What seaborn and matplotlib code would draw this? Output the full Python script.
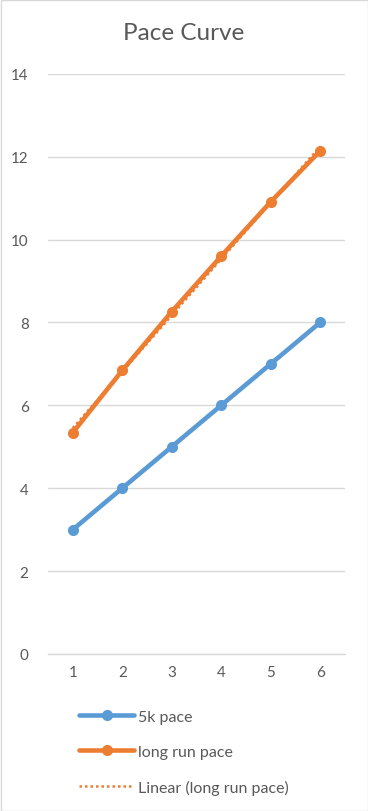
import numpy as np
import pandas as pd
import matplotlib
matplotlib.use("Agg")
import matplotlib.pyplot as plt
import seaborn as sns
from matplotlib.patches import Rectangle

# Data
run_number = [1, 2, 3, 4, 5, 6]
pace_5k = [3, 4, 5, 6, 7, 8]
pace_long_run = [5.34, 6.84, 8.26, 9.60, 10.91, 12.14]
y_ticks = [0, 2, 4, 6, 8, 10, 12, 14]
title = "Pace Curve"
label_5k = "5k pace"
label_long = "long run pace"
label_trend = "Linear (long run pace)"

sns.set_theme(style="white")
plt.rcParams['font.family'] = ['Lato', 'DejaVu Sans']

BLUE = "#5B9BD5"
ORANGE = "#ED7D31"
TXT = "#595959"
GRID = "#D9D9D9"

fig = plt.figure(figsize=(3.68, 8.12), dpi=100)
ax = fig.add_axes([48/368, 1 - 655/812, (345 - 48)/368, (655 - 74.7)/812])

df = pd.DataFrame({"x": run_number, "5k": pace_5k, "long": pace_long_run})

sns.lineplot(data=df, x="x", y="5k", ax=ax, color=BLUE, lw=3.3, marker="o",
             markersize=8, markeredgewidth=0, label=label_5k, zorder=3)
sns.lineplot(data=df, x="x", y="long", ax=ax, color=ORANGE, lw=3.3, marker="o",
             markersize=8, markeredgewidth=0, label=label_long, zorder=3)
sns.regplot(data=df, x="x", y="long", ax=ax, scatter=False, ci=None, truncate=True,
            color=ORANGE, label=label_trend,
            line_kws=dict(lw=1.8, linestyle=(0, (1, 1.2)), zorder=4))

ax.set_xlim(0.5, 6.5)
ax.set_ylim(0, 14)
ax.set_yticks(y_ticks)
ax.set_xticks(run_number)
ax.set_xlabel("")
ax.set_ylabel("")
ax.grid(axis="y", color=GRID, lw=1.0)
ax.set_axisbelow(True)
for s in ["top", "right", "left"]:
    ax.spines[s].set_visible(False)
ax.spines["bottom"].set_color(GRID)
ax.spines["bottom"].set_linewidth(1.0)
ax.tick_params(axis="both", length=0, labelsize=10.9, labelcolor=TXT)
ax.tick_params(axis="y", pad=14)
ax.tick_params(axis="x", pad=8)

fig.text(184/368, 1 - 34/812, title, ha="center", va="center",
         fontsize=17.5, color=TXT)

handles, labels = ax.get_legend_handles_labels()
if ax.legend_:
    ax.legend_.remove()
leg = fig.legend(handles, labels, loc="upper left",
                 bbox_to_anchor=(73/368, 1 - 704/812),
                 frameon=False, fontsize=11.5, handlelength=3.4,
                 handletextpad=0.3, labelspacing=1.32, borderaxespad=0)
for t in leg.get_texts():
    t.set_color(TXT)

fig.add_artist(Rectangle((0.5/368, 0.5/812), 1 - 1/368, 1 - 1/812,
                         transform=fig.transFigure, fill=False,
                         edgecolor=GRID, lw=1.0))

fig.savefig("out.png", dpi=100)
